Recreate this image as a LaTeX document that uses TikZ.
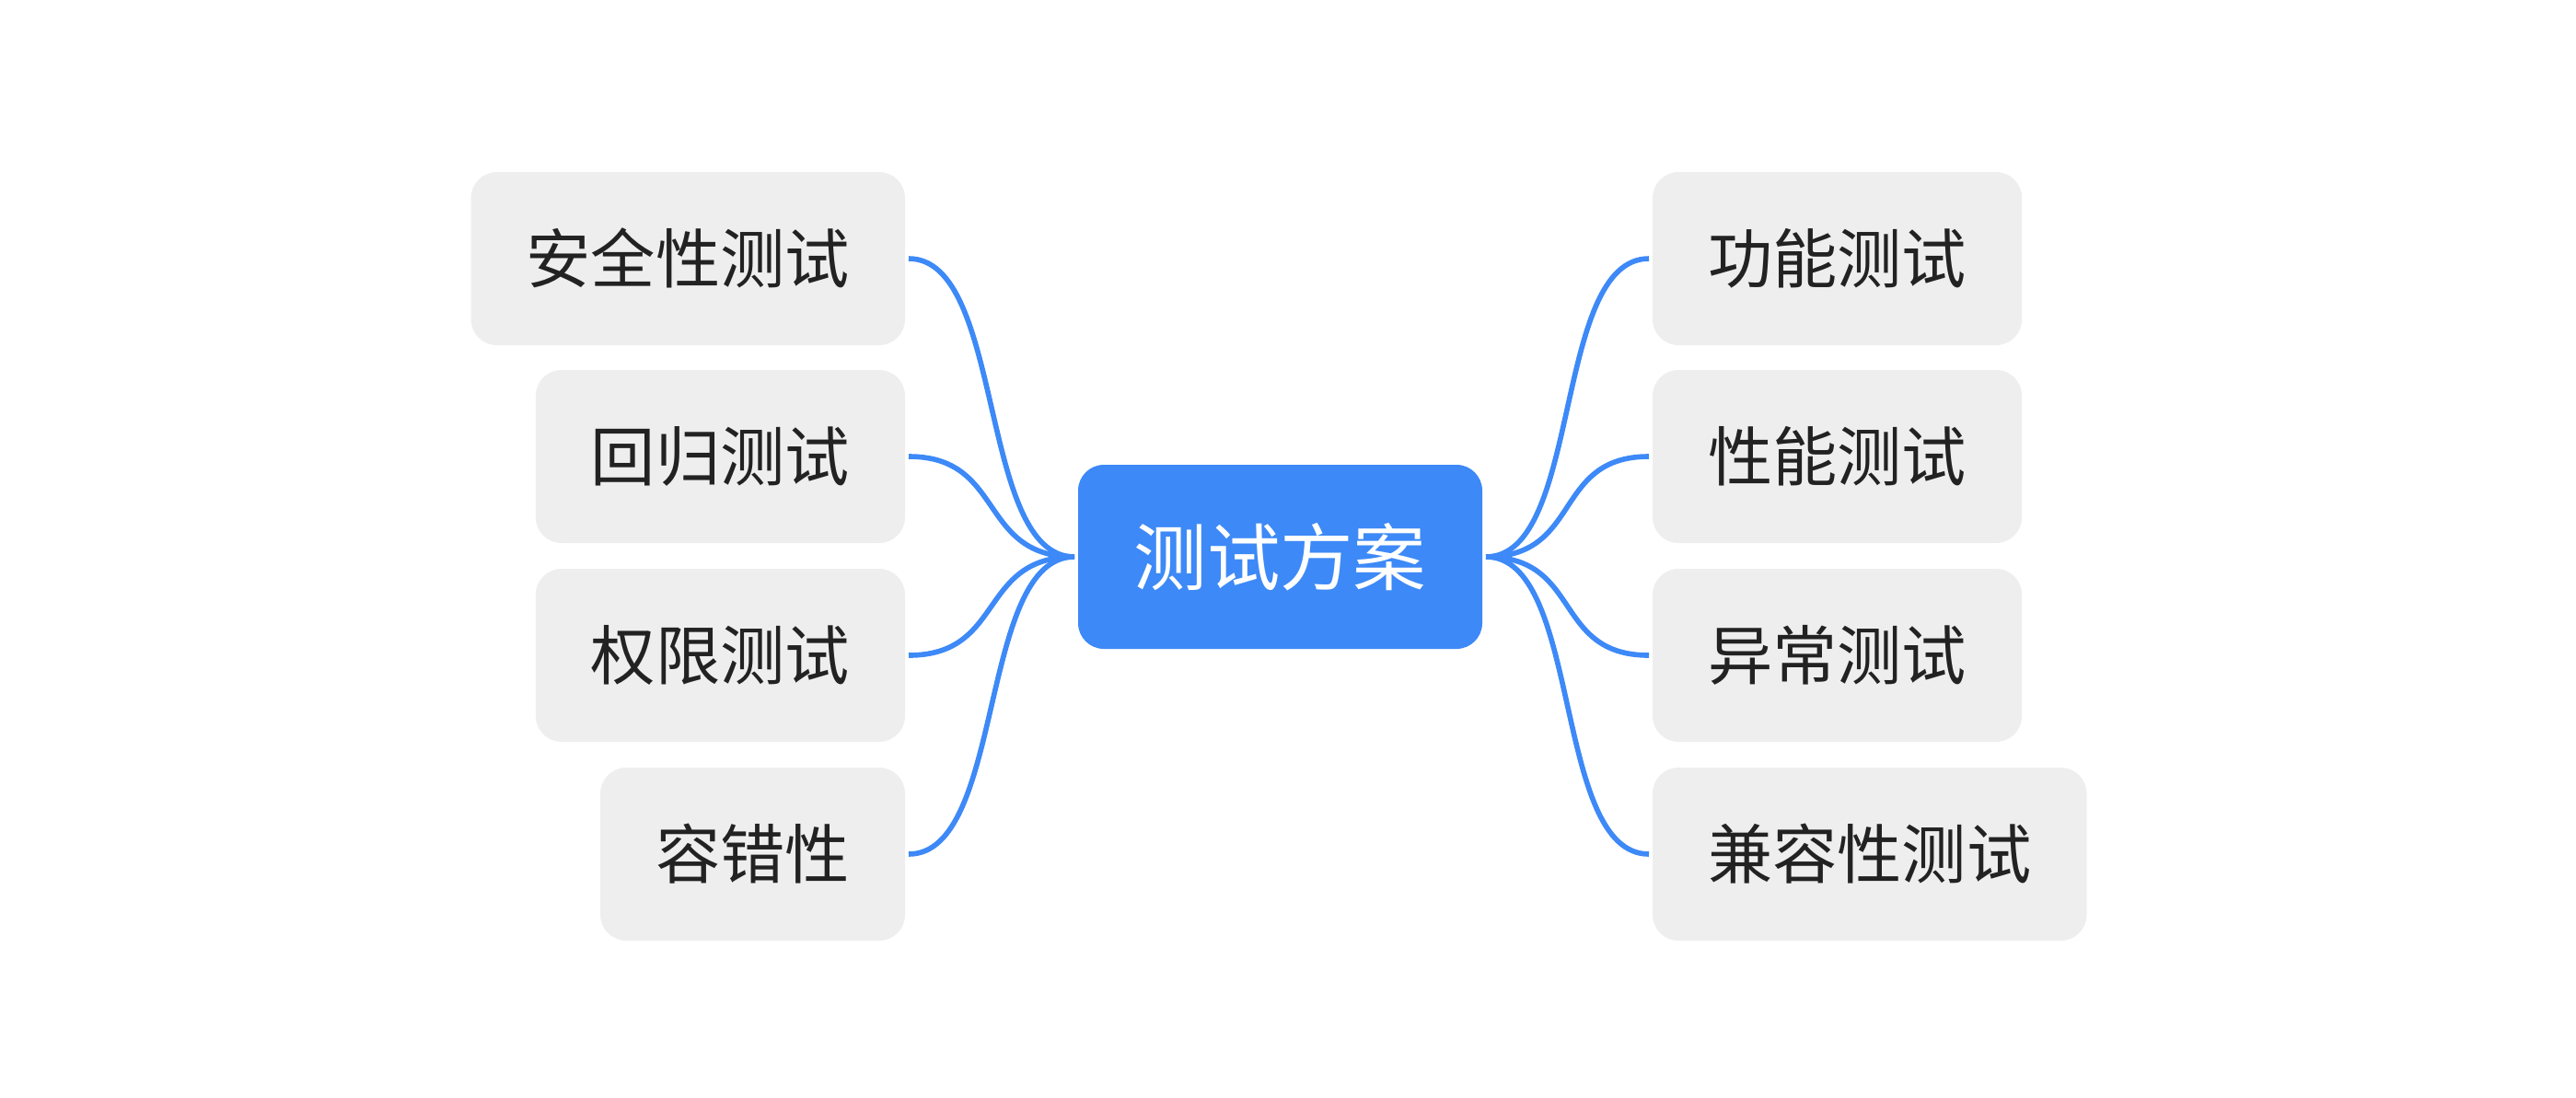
\documentclass[tikz,border=0pt]{standalone}
\usepackage{fontspec}
\usepackage{tikz}
\usetikzlibrary{positioning,calc}
\newfontfamily\cjk{Noto Sans CJK SC}
\definecolor{MapBlue}{RGB}{61,137,247}
\definecolor{LeafGray}{RGB}{238,238,238}
\definecolor{InkBlack}{RGB}{34,34,34}
\tikzset{
  root/.style={fill=MapBlue,text=white,rounded corners=0.28cm,minimum width=4.39cm,
    minimum height=2cm,font=\cjk\fontsize{22.6}{28}\selectfont,text height=18.1pt,text depth=0.9pt,outer sep=0.04cm},
  leaf/.style={fill=LeafGray,text=InkBlack,rounded corners=0.28cm,inner xsep=0.6cm,
    minimum height=1.88cm,font=\cjk\fontsize{20}{24}\selectfont,text height=16pt,text depth=0.8pt,outer sep=0.04cm},
  branch/.style={draw=MapBlue,line width=1.6pt},
}

\begin{document}
\begin{tikzpicture}[scale=1]
\useasboundingbox (0,0) rectangle (27.98,-11.92);
\coordinate (c) at (13.905,-6.05);
\coordinate (a1) at (9.87,-2.81);
\coordinate (a2) at (9.87,-4.96);
\coordinate (a3) at (9.87,-7.12);
\coordinate (a4) at (9.87,-9.28);
\coordinate (b1) at (17.91,-2.81);
\coordinate (b2) at (17.91,-4.96);
\coordinate (b3) at (17.91,-7.12);
\coordinate (b4) at (17.91,-9.28);
\node[root] (plan) at (c) {测试方案};
\node[leaf,anchor=east] (safe) at (a1) {安全性测试};
\node[leaf,anchor=east] (regr) at (a2) {回归测试};
\node[leaf,anchor=east] (perm) at (a3) {权限测试};
\node[leaf,anchor=east] (fault) at (a4) {容错性};
\node[leaf,anchor=west] (func) at (b1) {功能测试};
\node[leaf,anchor=west] (perf) at (b2) {性能测试};
\node[leaf,anchor=west] (excp) at (b3) {异常测试};
\node[leaf,anchor=west] (compat) at (b4) {兼容性测试};
\draw[branch] (plan.west) .. controls +(-1.05,0) and +(1.05,0) .. (safe.east);
\draw[branch] (plan.west) .. controls +(-1.05,0) and +(1.05,0) .. (regr.east);
\draw[branch] (plan.west) .. controls +(-1.05,0) and +(1.05,0) .. (perm.east);
\draw[branch] (plan.west) .. controls +(-1.05,0) and +(1.05,0) .. (fault.east);
\draw[branch] (plan.east) .. controls +(1.05,0) and +(-1.05,0) .. (func.west);
\draw[branch] (plan.east) .. controls +(1.05,0) and +(-1.05,0) .. (perf.west);
\draw[branch] (plan.east) .. controls +(1.05,0) and +(-1.05,0) .. (excp.west);
\draw[branch] (plan.east) .. controls +(1.05,0) and +(-1.05,0) .. (compat.west);
\end{tikzpicture}
\end{document}
